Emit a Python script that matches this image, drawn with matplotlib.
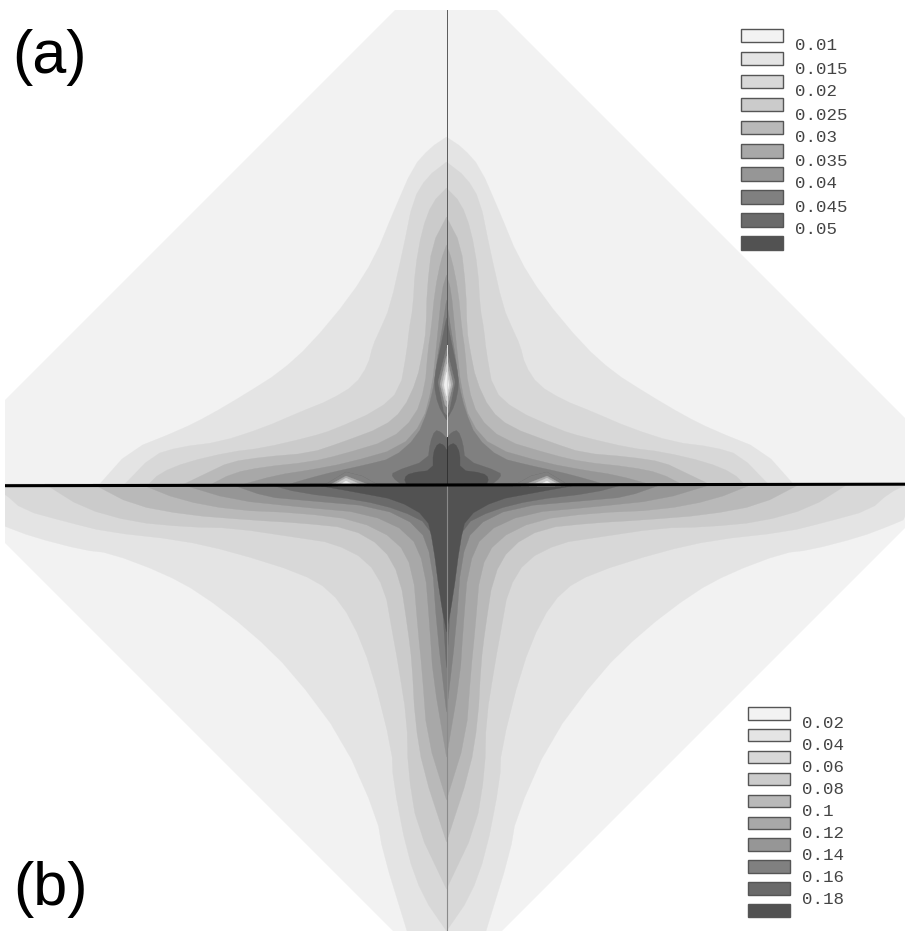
import matplotlib
matplotlib.use("Agg")
import matplotlib.pyplot as plt
from matplotlib.patches import Polygon, Rectangle

# Colour levels -------------------------------------------------------------
levels_a = ["0.01", "0.015", "0.02", "0.025", "0.03", "0.035", "0.04", "0.045", "0.05"]
levels_b = ["0.02", "0.04", "0.06", "0.08", "0.1", "0.12", "0.14", "0.16", "0.18"]
band_greys = ["#f2f2f2", "#e4e4e4", "#d8d8d8", "#cbcbcb", "#b9b9b9", "#a8a8a8", "#969696", "#808080", "#6a6a6a", "#525252"]

# Domain outline
domain = [(5, 400), (395, 10), (497, 10), (905, 418), (905, 528), (502, 931), (393, 931), (5, 543)]
axis_x = 446.5
axis_y = 485

# Panel (a): left half of each contour
a_1 = [(98, 486), (130, 450), (180, 430), (210, 415), (247, 393), (280, 372), (310, 345), (350, 297), (375, 257), (393, 213), (413, 167), (430, 148), (446.5, 137)]
a_2 = [(123, 486), (153, 455), (180, 447), (220, 442), (263, 428), (300, 412), (330, 400), (355, 385), (368, 365), (373, 345), (380, 330), (390, 307), (403, 250), (413, 200), (427, 177), (446.5, 162)]
a_3 = [(147, 486), (160, 473), (187, 462), (230, 452), (263, 448), (310, 437), (333, 430), (378, 410), (400, 390), (407, 350), (409, 330), (413, 307), (415, 270), (422, 230), (432, 203), (446.5, 188)]
a_4 = [(180, 486), (207, 473), (230, 462), (263, 457), (310, 453), (340, 443), (383, 427), (403, 410), (417, 380), (423, 350), (426, 330), (427, 290), (432, 245), (446.5, 217)]
a_5 = [(208, 486), (233, 473), (263, 467), (310, 462), (340, 455), (390, 440), (415, 417), (425, 387), (428, 350), (431, 330), (435, 290), (441, 260), (446.5, 245)]
a_6 = [(237, 486), (277, 475), (310, 470), (347, 463), (400, 448), (423, 422), (432, 387), (436, 350), (438, 330), (442, 290), (446.5, 275)]
a_7 = [(283, 486), (310, 478), (333, 472), (365, 465), (393, 458), (417, 437), (428, 410), (434, 385), (437, 360), (442, 330), (445, 310), (446.5, 300)]
a_8_blob = [(403, 486), (392, 477), (393, 472), (428, 460), (430, 443), (435, 430), (441, 432), (446.5, 438)]
a_8_spike = [(446.5, 318), (441, 345), (436, 368), (434, 385), (438, 405), (446.5, 420)]
a_9 = [(407, 486), (404, 478), (410, 473), (433, 470), (433, 453), (438, 443), (444, 445), (446.5, 450)]
a_pockets_vertical = [
    [(446.5, 348), (438, 382), (444, 412), (446.5, 415)],
    [(446.5, 356), (440, 384), (445, 405), (446.5, 407)],
    [(446.5, 364), (442, 385), (446, 400), (446.5, 401)],
    [(446.5, 372), (444, 385), (446.5, 396)],
]
a_pockets_arm = [
    [(323, 486), (346, 472), (362, 476), (380, 486)],
    [(328, 486), (346, 476), (372, 486)],
    [(332, 486), (346, 478), (364, 486)],
    [(338, 486), (346, 481), (356, 486)],
]
pocket_greys = ["#808080", "#a8a8a8", "#cbcbcb", "#f0f0f0"]

# Panel (b): left half of each contour
b_1 = [(-15, 484), (-15, 518), (4, 526), (33, 537), (83, 550), (110, 553), (163, 573), (200, 593), (250, 631), (293, 673), (343, 740), (377, 817), (383, 853), (407, 931)]
b_2 = [(-15, 484), (4, 493), (23, 510), (67, 522), (107, 532), (180, 540), (233, 552), (300, 573), (330, 590), (352, 620), (372, 670), (392, 750), (393, 780), (407, 853), (423, 897), (446.5, 931)]
b_3 = [(45, 484), (83, 508), (133, 522), (187, 527), (233, 528), (300, 538), (333, 543), (367, 560), (385, 590), (392, 630), (398, 663), (407, 720), (408, 770), (417, 827), (446.5, 889)]
b_4 = [(93, 484), (133, 505), (187, 515), (250, 520), (300, 523), (350, 528), (383, 547), (400, 577), (408, 630), (412, 663), (415, 720), (423, 770), (446.5, 842)]
b_5 = [(140, 484), (180, 500), (233, 510), (300, 513), (357, 520), (397, 540), (413, 570), (418, 630), (422, 670), (427, 737), (446.5, 800)]
b_6 = [(180, 484), (233, 500), (300, 507), (367, 513), (410, 533), (425, 567), (430, 630), (433, 677), (446.5, 757)]
b_7 = [(230, 484), (267, 497), (300, 500), (380, 507), (420, 527), (432, 560), (437, 630), (446.5, 712)]
b_8 = [(267, 484), (300, 493), (360, 500), (400, 510), (430, 525), (438, 560), (442, 600), (446.5, 668)]
b_9 = [(310, 484), (360, 493), (397, 500), (427, 517), (433, 543), (440, 597), (446.5, 632)]

a_bands = [a_1, a_2, a_3, a_4, a_5, a_6, a_7]
b_bands = [b_1, b_2, b_3, b_4, b_5, b_6, b_7, b_8, b_9]


def rounded(pts):
    out = [pts[0]]
    for (x0, y0), (x1, y1) in zip(pts[:-1], pts[1:]):
        out.append((0.75 * x0 + 0.25 * x1, 0.75 * y0 + 0.25 * y1))
        out.append((0.25 * x0 + 0.75 * x1, 0.25 * y0 + 0.75 * y1))
    out.append(pts[-1])
    return out


def mirrored(pts):
    return pts + [(2 * axis_x - x, y) for x, y in reversed(pts)]


fig = plt.figure(figsize=(9.05, 9.31), dpi=100)
ax = fig.add_axes([0, 0, 1, 1])
ax.set_xlim(0, 905)
ax.set_ylim(931, 0)
ax.axis("off")

base = Polygon(domain, closed=True, fc=band_greys[0], ec="none", zorder=1)
ax.add_patch(base)


def fill(outline, colour, z, flip=False):
    if flip:
        outline = [(2 * axis_x - x, y) for x, y in outline]
    p = Polygon(outline, closed=True, fc=colour, ec=colour, lw=0.2, zorder=z)
    ax.add_patch(p)
    p.set_clip_path(base)


z = 2
for grey, band in zip(band_greys[1:], a_bands):
    fill(mirrored(rounded(band)), grey, z)
    z += 1
fill(mirrored(rounded(a_8_blob)), band_greys[8], z)
fill(mirrored(rounded(a_8_spike)), band_greys[8], z)
fill(mirrored(rounded(a_9)), band_greys[9], z + 1)
for grey, pocket in zip(pocket_greys, a_pockets_vertical):
    z += 1
    fill(mirrored(pocket), grey, z + 1)
fill(a_pockets_arm[0], band_greys[8], z + 2)
fill(a_pockets_arm[0], band_greys[8], z + 2, flip=True)
for grey, pocket in zip(pocket_greys, a_pockets_arm):
    z += 1
    fill(pocket, grey, z + 2)
    fill(pocket, grey, z + 2, flip=True)

z = 2
for grey, band in zip(band_greys[1:], b_bands):
    fill(mirrored(rounded(band)), grey, z)
    z += 1

# Axes of symmetry
ax.plot([447, 447], [10, 345], color="#5a5a5a", lw=0.7, zorder=40)
ax.plot([447, 447], [345, 437], color="#dddddd", lw=0.7, zorder=40)
ax.plot([447, 447], [437, 485], color="#333333", lw=0.7, zorder=40)
ax.plot([446.5, 446.5], [485, 931], color="#8a8a8a", lw=0.8, zorder=40)
ax.plot([5, 905], [485.7, 484.2], color="black", lw=2.2, zorder=41, solid_capstyle="butt")


def legend(labels, x0, w, y0, step, h, tx, ty0, tstep):
    for i in range(len(band_greys)):
        ax.add_patch(Rectangle((x0, y0 + i * step), w, h, fc=band_greys[i], ec="#555555", lw=1.0, zorder=50))
    for i, lab in enumerate(labels):
        ax.text(tx, ty0 + i * tstep, lab, family="Liberation Mono", fontsize=12.6, color="#444444",
                ha="left", va="center", zorder=50)


legend(levels_a, 741, 42, 28.5, 23.1, 13.5, 794.5, 46, 23)
legend(levels_b, 747.5, 42.5, 707, 21.9, 12.5, 801.5, 723, 22)

ax.text(12, 73, "(a)", family="Liberation Sans", fontsize=44, color="black", ha="left", va="baseline", zorder=60)
ax.text(13, 905, "(b)", family="Liberation Sans", fontsize=44, color="black", ha="left", va="baseline", zorder=60)

fig.savefig("out.png", dpi=100)
